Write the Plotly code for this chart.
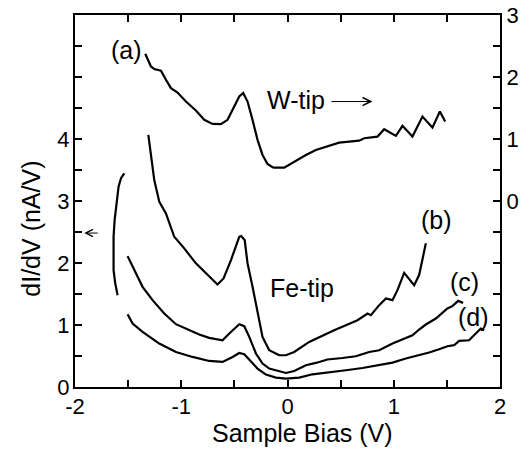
import plotly.graph_objects as go

# ---- data ----
# (a) W-tip, plotted against the right axis
a_v = [-1.339, -1.285, -1.254, -1.191, -1.144, -1.097, -1.035, -0.956, -0.862, -0.784,
       -0.706, -0.627, -0.564, -0.501, -0.454, -0.417, -0.376, -0.329, -0.282, -0.235,
       -0.188, -0.141, -0.125, -0.031, 0.063, 0.173, 0.267, 0.376, 0.486, 0.580,
       0.674, 0.722, 0.847, 0.910, 1.020, 1.082, 1.176, 1.270, 1.364, 1.434, 1.484]
a_g = [2.375, 2.170, 2.128, 2.100, 1.955, 1.821, 1.750, 1.604, 1.459, 1.309,
       1.244, 1.239, 1.309, 1.523, 1.685, 1.740, 1.604, 1.309, 0.986, 0.743,
       0.598, 0.544, 0.538, 0.538, 0.635, 0.743, 0.824, 0.889, 0.942, 0.958,
       0.974, 1.013, 1.039, 1.158, 1.050, 1.212, 1.039, 1.362, 1.184, 1.443, 1.281]

# (b) Fe-tip
b_v = [-1.310, -1.285, -1.254, -1.207, -1.144, -1.066, -0.972, -0.862, -0.753, -0.659,
       -0.602, -0.532, -0.454, -0.436, -0.403, -0.376, -0.329, -0.282, -0.235, -0.172,
       -0.078, -0.015, 0.063, 0.204, 0.314, 0.439, 0.549, 0.659, 0.753, 0.785,
       0.863, 0.926, 0.988, 1.035, 1.098, 1.192, 1.239, 1.302]
b_g = [4.066, 3.716, 3.339, 2.989, 2.801, 2.423, 2.236, 1.994, 1.805, 1.654,
       1.751, 2.047, 2.423, 2.435, 2.370, 1.994, 1.616, 1.186, 0.808, 0.593,
       0.512, 0.512, 0.565, 0.727, 0.819, 0.916, 0.997, 1.078, 1.186, 1.158,
       1.320, 1.428, 1.401, 1.562, 1.842, 1.643, 1.805, 2.317]

# (c) Fe-tip
c_v = [-1.505, -1.442, -1.364, -1.270, -1.160, -1.050, -0.925, -0.831, -0.737, -0.611,
       -0.548, -0.454, -0.407, -0.360, -0.297, -0.235, -0.172, -0.078, -0.015, 0.063,
       0.173, 0.267, 0.376, 0.517, 0.643, 0.769, 0.863, 0.988, 1.082, 1.176,
       1.239, 1.302, 1.396, 1.505, 1.552, 1.606, 1.653]
c_g = [2.111, 1.885, 1.616, 1.401, 1.186, 1.013, 0.916, 0.847, 0.792, 0.754,
       0.863, 1.013, 0.981, 0.808, 0.540, 0.378, 0.297, 0.254, 0.226, 0.258,
       0.351, 0.388, 0.443, 0.468, 0.496, 0.565, 0.593, 0.701, 0.766, 0.835,
       0.927, 1.008, 1.105, 1.267, 1.304, 1.389, 1.357]

# (d) Fe-tip
d_v = [-1.505, -1.458, -1.364, -1.207, -1.050, -0.894, -0.737, -0.611, -0.517, -0.454,
       -0.407, -0.344, -0.282, -0.203, -0.109, -0.015, 0.110, 0.235, 0.392, 0.549,
       0.706, 0.863, 0.988, 1.114, 1.239, 1.333, 1.427, 1.505, 1.568, 1.615,
       1.709, 1.772, 1.819, 1.850]
d_g = [1.174, 1.024, 0.889, 0.701, 0.565, 0.485, 0.420, 0.404, 0.485, 0.549,
       0.528, 0.420, 0.297, 0.200, 0.152, 0.136, 0.152, 0.205, 0.233, 0.270,
       0.307, 0.351, 0.394, 0.459, 0.512, 0.556, 0.609, 0.658, 0.674, 0.743,
       0.754, 0.872, 0.943, 0.916]

# short arc near the left axis
e_v = [-1.536, -1.567, -1.590, -1.609, -1.627, -1.637, -1.640, -1.637, -1.621, -1.599]
e_g = [3.447, 3.367, 3.231, 2.963, 2.693, 2.423, 2.155, 1.885, 1.670, 1.481]

# axis ticks
x_ticks = [-2, -1.5, -1, -0.5, 0, 0.5, 1, 1.5, 2]
x_labels = ["-2", "", "-1", "", "0", "", "1", "", "2"]
yl_ticks = [0, 0.5, 1, 1.5, 2, 2.5, 3, 3.5, 4, 4.5, 5, 5.5]
yl_labels = ["0", "", "1", "", "2", "", "3", "", "4", "", "", ""]
yr_ticks = [-3, -2.5, -2, -1.5, -1, -0.5, 0, 0.5, 1, 1.5, 2, 2.5, 3]
yr_labels = ["", "", "", "", "", "", "0", "", "1", "", "2", "", "3"]

FONT = "Liberation Sans, Arial, Helvetica, sans-serif"
FS = 25
TFS = 22
line = dict(color="black", width=2.2)

fig = go.Figure()
fig.add_trace(go.Scatter(x=a_v, y=a_g, mode="lines", line=line, yaxis="y2", showlegend=False))
for xv, yv in [(b_v, b_g), (c_v, c_g), (d_v, d_g), (e_v, e_g)]:
    fig.add_trace(go.Scatter(x=xv, y=yv, mode="lines", line=line, showlegend=False))

axis_common = dict(showline=True, linecolor="black", linewidth=2, ticks="inside",
                   ticklen=7, tickwidth=1.5, tickcolor="black", showgrid=False,
                   zeroline=False, automargin=False,
                   tickfont=dict(family=FONT, size=TFS, color="black"))

fig.update_layout(
    width=529, height=455,
    margin=dict(l=75, r=29, t=15, b=68, autoexpand=False),
    paper_bgcolor="white", plot_bgcolor="white",
    font=dict(family=FONT, size=FS, color="black"),
    xaxis=dict(range=[-2, 2], tickmode="array", tickvals=x_ticks, ticktext=x_labels,
               mirror="ticks", ticklabelstandoff=-1, **axis_common),
    yaxis=dict(range=[0, 6], tickmode="array", tickvals=yl_ticks, ticktext=yl_labels,
               ticklabelstandoff=-1, **axis_common),
    yaxis2=dict(range=[-3, 3.0001], tickmode="array", tickvals=yr_ticks, ticktext=yr_labels,
                overlaying="y", side="right", **axis_common),
)

ann_font = dict(family=FONT, size=FS, color="black")
labels = [("(a)", -1.517, 5.44), ("W-tip", 0.077, 4.63), ("Fe-tip", 0.138, 1.594),
          ("(b)", 1.399, 2.69), ("(c)", 1.662, 1.69), ("(d)", 1.747, 1.126)]
for t, xv, yv in labels:
    fig.add_annotation(x=xv, y=yv, xref="x", yref="y", text=t, showarrow=False,
                       font=ann_font, xanchor="center", yanchor="middle")

# arrows
fig.add_annotation(x=0.80, y=4.604, ax=0.40, ay=4.604, xref="x", yref="y", axref="x", ayref="y",
                   text="", showarrow=True, arrowhead=5, arrowsize=1.6, arrowwidth=1, arrowcolor="black")
fig.add_annotation(x=-1.913, y=2.483, ax=-1.772, ay=2.483, xref="x", yref="y", axref="x", ayref="y",
                   text="", showarrow=True, arrowhead=5, arrowsize=1.4, arrowwidth=1, arrowcolor="black")

# axis titles
fig.add_annotation(x=0.535, y=-0.1246, xref="paper", yref="paper", text="Sample Bias (V)",
                   showarrow=False, font=ann_font, xanchor="center", yanchor="middle")
fig.add_annotation(x=-0.1035, y=0.4256, xref="paper", yref="paper", text="dI/dV (nA/V)",
                   showarrow=False, font=ann_font, textangle=-90, xanchor="center", yanchor="middle")

fig.write_html("out.html", config={"displayModeBar": False},
               post_script="document.body.style.margin='0';")
